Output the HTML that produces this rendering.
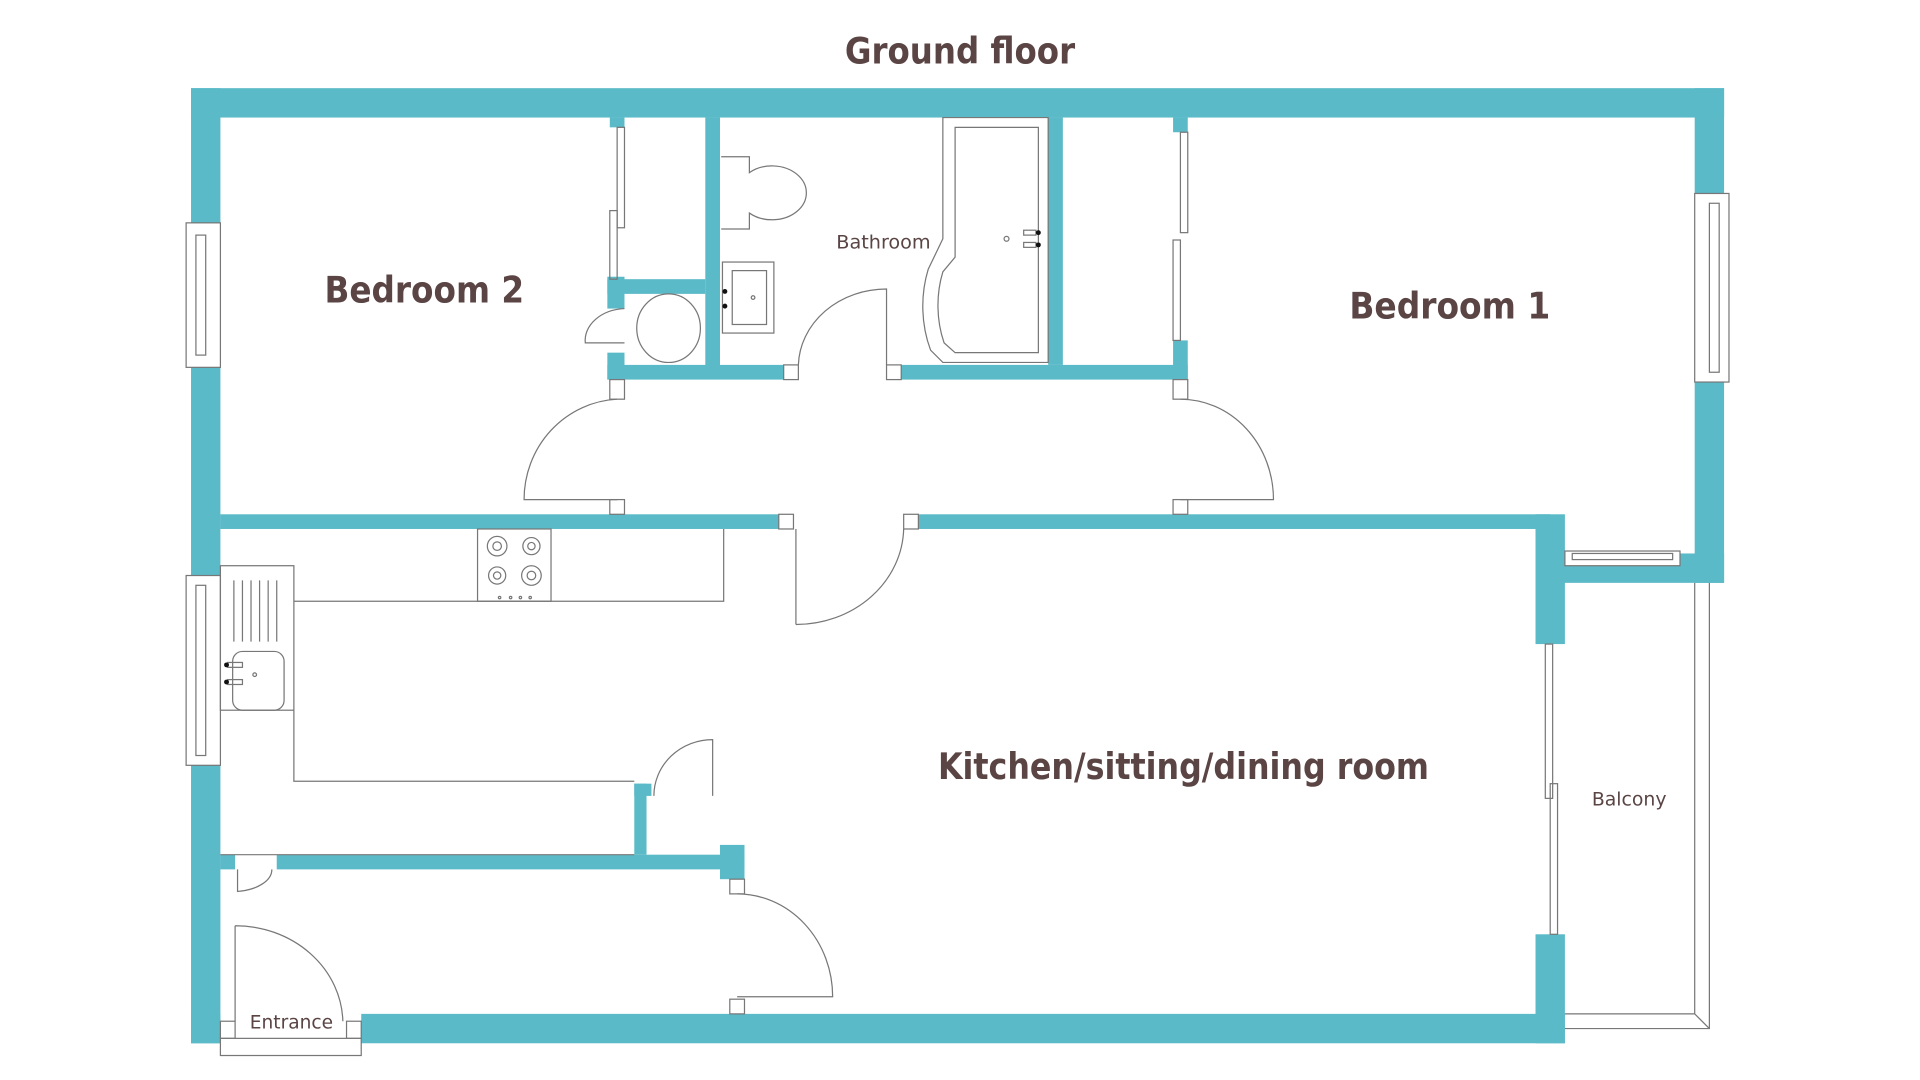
<!DOCTYPE html>
<html><head><meta charset="utf-8"><style>
html,body{margin:0;padding:0;background:#fff;width:1920px;height:1080px;overflow:hidden}
svg{display:block}
text{font-family:"DejaVu Sans Condensed","DejaVu Sans","Liberation Sans",sans-serif;fill:#5a4444;font-weight:bold}
text.s{font-weight:normal}
</style></head><body>
<svg width="1920" height="1080" viewBox="0 0 1568 882" preserveAspectRatio="none" xmlns="http://www.w3.org/2000/svg">
<g fill="#5bbac8">
<rect x="156" y="72" width="1252" height="24"/>
<rect x="156" y="72" width="24" height="780"/>
<rect x="295" y="828" width="983" height="24"/>
<rect x="156" y="828" width="24" height="24"/>
<rect x="1384" y="72" width="24" height="404"/>
<rect x="1266" y="452" width="142" height="24"/>
<rect x="1254" y="420" width="24" height="106"/>
<rect x="1254" y="763" width="24" height="89"/>
<rect x="180" y="420" width="456" height="12"/>
<rect x="750" y="420" width="516" height="12"/>
<rect x="576" y="96" width="12" height="212"/>
<rect x="856" y="96" width="12" height="202"/>
<rect x="496" y="298" width="144" height="12"/>
<rect x="736" y="298" width="234" height="12"/>
<rect x="496" y="228" width="80" height="12"/>
<rect x="496" y="226" width="14" height="26"/>
<rect x="496" y="288" width="14" height="22"/>
<rect x="498" y="96" width="12" height="8"/>
<rect x="958" y="96" width="12" height="12"/>
<rect x="958" y="278" width="12" height="32"/>
<rect x="226" y="698" width="382" height="12"/>
<rect x="180" y="698" width="12" height="12"/>
<rect x="588" y="690" width="20" height="28"/>
<rect x="518" y="640" width="10" height="58"/>
<rect x="518" y="640" width="14" height="10"/>
</g>
<g fill="#fff" stroke="#777" stroke-width="1">
<rect x="152" y="182" width="28" height="118"/>
<rect x="160" y="192" width="8" height="98"/>
<rect x="152" y="470" width="28" height="155"/>
<rect x="160" y="478" width="8" height="139"/>
<rect x="1384" y="158" width="28" height="154"/>
<rect x="1396" y="166" width="8" height="138"/>
<rect x="1278" y="450" width="94" height="12"/>
<rect x="1284" y="452" width="82" height="5"/>
<rect x="498" y="310" width="12" height="16"/>
<rect x="498" y="408" width="12" height="12"/>
<rect x="958" y="310" width="12" height="16"/>
<rect x="958" y="408" width="12" height="12"/>
<rect x="640" y="298" width="12" height="12"/>
<rect x="724" y="298" width="12" height="12"/>
<rect x="636" y="420" width="12" height="12"/>
<rect x="738" y="420" width="12" height="12"/>
<rect x="596" y="718" width="12" height="12"/>
<rect x="596" y="816" width="12" height="12"/>
<rect x="180" y="834" width="12" height="14"/>
<rect x="283" y="834" width="12" height="14"/>
<rect x="180" y="848" width="115" height="14"/>
</g>
<g fill="none" stroke="#777" stroke-width="1">
<rect x="504" y="104" width="6" height="82"/>
<rect x="498" y="172" width="6" height="56"/>
<rect x="964" y="108" width="6" height="82"/>
<rect x="958" y="196" width="6" height="82"/>
<polyline points="1384,476 1384,828 1278,828"/>
<polyline points="1396,476 1396,840 1278,840"/>
<line x1="1384" y1="828" x2="1396" y2="840"/>
<rect x="1262" y="526" width="6" height="126"/>
<rect x="1266" y="640" width="6" height="123"/>
<path d="M504,326 A80,82 0 0 0 428,408 L504,408"/>
<path d="M964,326 A76,82 0 0 1 1040,408 L964,408"/>
<path d="M650,510 L650,432 M650,510 A88,80 0 0 0 738,432"/>
<path d="M652,298 A72,64 0 0 1 724,236 L724,298"/>
<path d="M602,730 A78,84 0 0 1 680,814 L602,814"/>
<path d="M192,756 L192,834 M192,756 A88,80 0 0 1 280,834"/>
<path d="M194,710 L194,728 A32,18 0 0 0 222,710"/>
<path d="M534,650 A48,46 0 0 1 582,604 L582,650"/>
<path d="M510,252 A34,26 0 0 0 478,280 L510,280"/>
<path d="M589,128 L612,128 L612,141 A28,22 0 1 1 612,174 L612,187 L589,187"/>
<ellipse cx="546" cy="268" rx="26" ry="28"/>
<rect x="590" y="214" width="42" height="58"/>
<rect x="598" y="221" width="28" height="44"/>
<circle cx="615" cy="243" r="1.5"/>
<path d="M770,96 L856,96 L856,296 L770,296 L760,286 A60,80 0 0 1 758,220 L770,195 Z"/>
<path d="M780,104 L848,104 L848,288 L780,288 L771,280 A50,70 0 0 1 770,222 L780,210 Z"/>
<circle cx="822" cy="195" r="2"/>
<rect x="836" y="188" width="10" height="4"/>
<rect x="836" y="198" width="10" height="4"/>
<polyline points="240,491 591,491 591,432"/>
<rect x="390" y="432" width="60" height="59"/>
<circle cx="406" cy="446" r="8"/><circle cx="406" cy="446" r="3.5"/>
<circle cx="434" cy="446" r="7"/><circle cx="434" cy="446" r="3"/>
<circle cx="406" cy="470" r="7"/><circle cx="406" cy="470" r="3"/>
<circle cx="434" cy="470" r="8"/><circle cx="434" cy="470" r="3.5"/>
<circle cx="408" cy="488" r="1"/><circle cx="417" cy="488" r="1"/><circle cx="425" cy="488" r="1"/><circle cx="433" cy="488" r="1"/>
<rect x="180" y="462" width="60" height="118"/>
<polyline points="240,580 240,638 518,638"/>
<line x1="180" y1="698" x2="518" y2="698"/>
<path d="M191,474 v50 M198,474 v50 M205,474 v50 M212,474 v50 M219,474 v50 M226,474 v50"/>
<rect x="190" y="532" width="42" height="48" rx="8"/>
<circle cx="208" cy="551" r="1.5"/>
<rect x="186" y="541" width="12" height="4"/>
<rect x="186" y="555" width="12" height="4"/>
</g>
<g fill="#111">
<circle cx="592" cy="238" r="2"/><circle cx="592" cy="250" r="2"/>
<circle cx="848" cy="190" r="2"/><circle cx="848" cy="200" r="2"/>
<circle cx="185" cy="543" r="2"/><circle cx="185" cy="557" r="2"/>
</g>
<text x="690" y="52" font-size="30" textLength="188" lengthAdjust="spacingAndGlyphs">Ground floor</text>
<text x="265" y="247" font-size="30" textLength="163" lengthAdjust="spacingAndGlyphs">Bedroom 2</text>
<text x="1102" y="260" font-size="30" textLength="164" lengthAdjust="spacingAndGlyphs">Bedroom 1</text>
<text class="s" x="683" y="203" font-size="15" textLength="77" lengthAdjust="spacingAndGlyphs">Bathroom</text>
<text x="766" y="636" font-size="30" textLength="401" lengthAdjust="spacingAndGlyphs">Kitchen/sitting/dining room</text>
<text class="s" x="1300" y="658" font-size="15" textLength="61" lengthAdjust="spacingAndGlyphs">Balcony</text>
<text class="s" x="204" y="840" font-size="15" textLength="68" lengthAdjust="spacingAndGlyphs">Entrance</text>
</svg>
</body></html>
